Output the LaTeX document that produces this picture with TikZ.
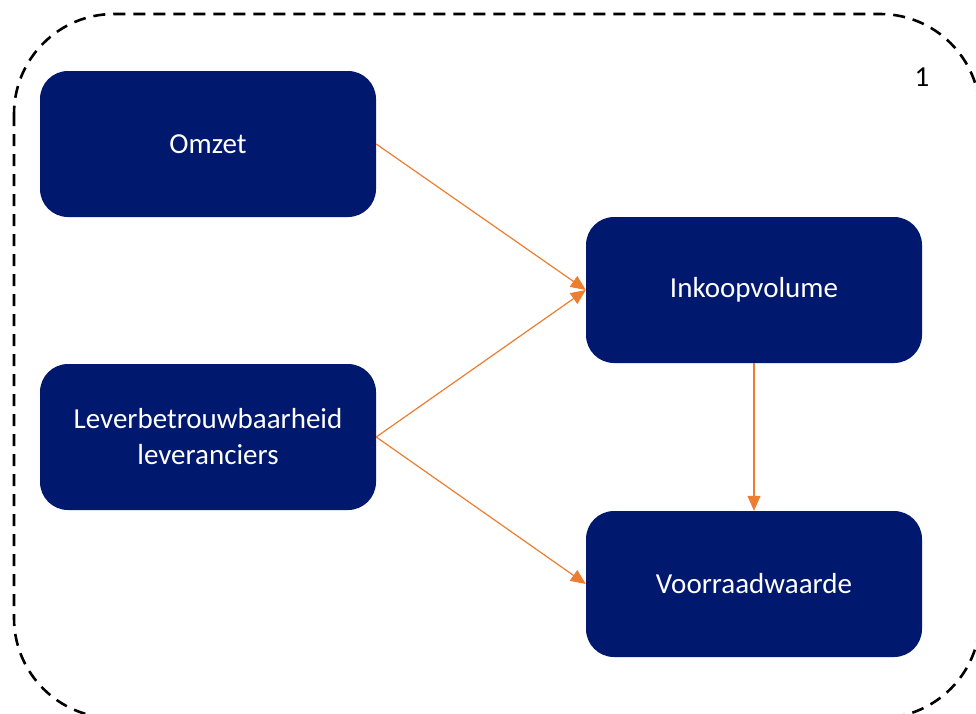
\documentclass[tikz,border=0pt]{standalone}
\usepackage{fontspec}
\setmainfont{Carlito}
\usetikzlibrary{arrows.meta}
\definecolor{navy}{RGB}{0,24,110}
\definecolor{flow}{RGB}{237,125,49}
\begin{document}
\begin{tikzpicture}[x=1pt,y=-1pt,
  block/.style={fill=navy, draw=none, rounded corners=28pt, minimum width=336pt,
    minimum height=146pt, text=white, align=center, inner sep=0pt,
    font=\fontsize{29}{36}\selectfont},
  link/.style={draw=flow, line width=1.2pt, -{Triangle[length=15pt,width=13pt]}}]
  \useasboundingbox (0,0) rectangle (976,713);
  % dashed outer frame, partly running off the page
  \draw[line width=2.6pt, dash pattern=on 12pt off 8pt, rounded corners=100pt]
    (14,14) rectangle (980,718);
  \node at (922,77) {\fontsize{29}{36}\selectfont 1};
  % blocks
  \node[block] (omzet) at (208,144) {Omzet};
  \node[block] (lever) at (208,437) {Leverbetrouwbaarheid\\leveranciers};
  \node[block] (inkoop) at (754,290) {Inkoopvolume};
  \node[block] (voorraad) at (754,584) {Voorraadwaarde};
  % connectors
  \draw[link] (omzet.east) -- (inkoop.west);
  \draw[link] (lever.east) -- (inkoop.west);
  \draw[link] (lever.east) -- (voorraad.west);
  \draw[link] (inkoop.south) -- (voorraad.north);
\end{tikzpicture}
\end{document}
